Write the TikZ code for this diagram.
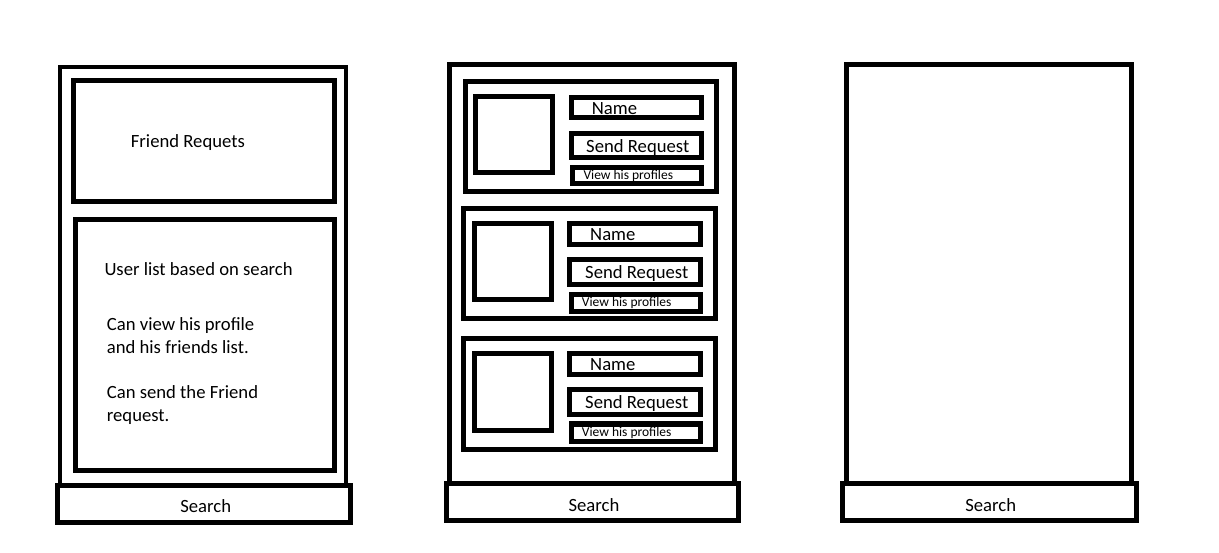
\documentclass[tikz,border=0pt]{standalone}
\usepackage{fontspec}
\setmainfont{Carlito}
\begin{document}
\begin{tikzpicture}[x=1pt,y=-1pt,
  frame/.style={draw=black,line width=5pt},
  thinframe/.style={draw=black,line width=4.5pt},
  big/.style={inner sep=0pt,font=\fontsize{18.67}{22.8}\selectfont},
  small/.style={inner sep=0pt,font=\fontsize{13.5}{16}\selectfont},
  lbl/.style={big,anchor=base west},
  slbl/.style={small,anchor=base west},
  clbl/.style={big,anchor=base}]
\useasboundingbox[fill=white] (0,0) rectangle (1219,553);

% ---------- Panel 1 ----------
\draw[thinframe] (60,485) -- (60,67) -- (346,67) -- (346,485);
\draw[frame] (73,80.5) rectangle (334,201.5);
\node[lbl] (fr) at (130.7,147.3) {Friend Requets};
\draw[frame] (75,219.5) rectangle (334,470);
\node[lbl] (ul) at (104.3,275.7) {User list based on search};
\node[lbl] (cv1) at (106.7,330.3) {Can view his profile};
\node[lbl] (cv2) at (106.7,353.3) {and his friends list.};
\node[lbl] (cs1) at (106.7,399) {Can send the Friend};
\node[lbl] (cs2) at (106.7,421.7) {request.};
\draw[frame] (57.5,485) rectangle (350,522);
\node[clbl] (s1) at (205.7,512.7) {Search};

% ---------- Panel 2 ----------
\draw[frame] (449,483.5) -- (449,65) -- (734,65) -- (734,483.5);
% card 1
\draw[frame] (465,81.5) rectangle (716,192);
\draw[frame] (475,97) rectangle (552.5,173);
\draw[frame] (571,97.5) rectangle (701,117.5);
\node[lbl] (n1) at (591.7,114.3) {Name};
\draw[frame] (571,134) rectangle (701,158);
\node[lbl] (r1) at (586,152.3) {Send Request};
\draw[frame] (572,167.5) rectangle (701,184);
\node[slbl] (v1) at (583.3,180) {View his profiles};
% card 2
\draw[frame] (463.5,208.5) rectangle (715,319);
\draw[frame] (474,223.5) rectangle (551.5,300);
\draw[frame] (569,224) rectangle (700,245);
\node[lbl] (n2) at (590,241) {Name};
\draw[frame] (569,260) rectangle (700,285);
\node[lbl] (r2) at (585,279) {Send Request};
\draw[frame] (571,295) rectangle (700,311.5);
\node[slbl] (v2) at (581.7,306.7) {View his profiles};
% card 3
\draw[frame] (463.5,338.5) rectangle (715,449);
\draw[frame] (474,353.5) rectangle (551.5,430);
\draw[frame] (569,354) rectangle (700,375);
\node[lbl] (n3) at (590,371) {Name};
\draw[frame] (569,390) rectangle (700,415);
\node[lbl] (r3) at (585,409) {Send Request};
\draw[frame] (571,424) rectangle (700,441);
\node[slbl] (v3) at (581.7,436.7) {View his profiles};
\draw[frame] (446,483.5) rectangle (738.5,520);
\node[clbl] (s2) at (594,511) {Search};

% ---------- Panel 3 ----------
\draw[frame] (846,483.5) -- (846,65) -- (1131,65) -- (1131,483.5);
\draw[frame] (842.5,483.5) rectangle (1136,520);
\node[clbl] (s3) at (990.7,511) {Search};
\end{tikzpicture}
\end{document}
